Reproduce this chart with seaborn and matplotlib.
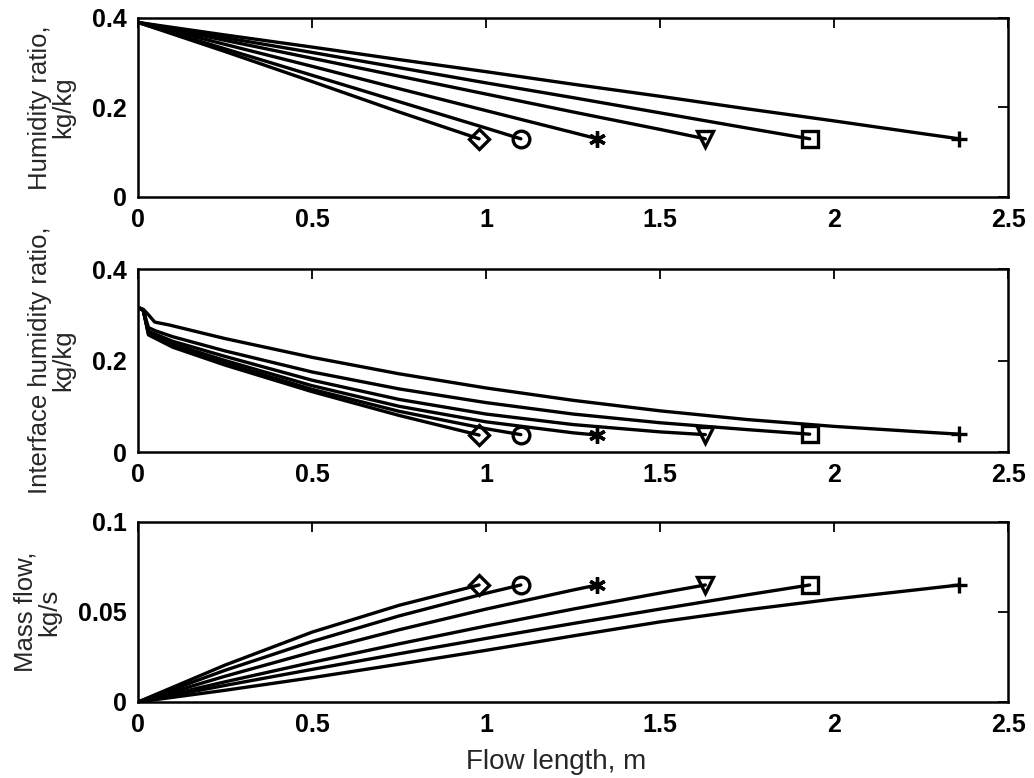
import numpy as np
import pandas as pd
import matplotlib
matplotlib.use("Agg")
import matplotlib.pyplot as plt
import seaborn as sns

sns.set_theme(style="white")
plt.rcParams["font.family"] = ["Liberation Sans", "DejaVu Sans"]

# Flow length of each channel (m) and the end marker used for it
lengths = [0.98, 1.10, 1.32, 1.63, 1.93, 2.36]
markers = ["D", "o", (6, 2, 0), "v", "s", "+"]

# Humidity ratio of the air, kg/kg
hum_x = [
    [0, 0.25, 0.5, 0.75, 0.98],
    [0, 0.25, 0.5, 0.75, 1.0, 1.10],
    [0, 0.25, 0.5, 0.75, 1.0, 1.25, 1.32],
    [0, 0.25, 0.5, 0.75, 1.0, 1.25, 1.5, 1.63],
    [0, 0.25, 0.5, 0.75, 1.0, 1.25, 1.5, 1.75, 1.93],
    [0, 0.25, 0.5, 0.75, 1.0, 1.25, 1.5, 1.75, 2.0, 2.25, 2.36],
]
hum_y = [
    [0.39, 0.325, 0.258, 0.190, 0.13],
    [0.39, 0.331, 0.272, 0.213, 0.154, 0.13],
    [0.39, 0.341, 0.292, 0.242, 0.193, 0.144, 0.13],
    [0.39, 0.350, 0.310, 0.270, 0.230, 0.190, 0.151, 0.13],
    [0.39, 0.356, 0.323, 0.289, 0.255, 0.222, 0.188, 0.154, 0.13],
    [0.39, 0.362, 0.335, 0.307, 0.280, 0.252, 0.225, 0.197, 0.170, 0.142, 0.13],
]

# Humidity ratio at the interface, kg/kg
int_x = [
    [0, 0.015, 0.03, 0.1, 0.25, 0.5, 0.75, 0.98],
    [0, 0.015, 0.03, 0.1, 0.25, 0.5, 0.75, 1.0, 1.10],
    [0, 0.015, 0.03, 0.1, 0.25, 0.5, 0.75, 1.0, 1.25, 1.32],
    [0, 0.015, 0.03, 0.1, 0.25, 0.5, 0.75, 1.0, 1.25, 1.5, 1.63],
    [0, 0.015, 0.03, 0.05, 0.1, 0.25, 0.5, 0.75, 1.0, 1.25, 1.5, 1.75, 1.93],
    [0, 0.015, 0.03, 0.048, 0.088, 0.25, 0.5, 0.75, 1.0, 1.25, 1.5, 1.75, 2.0, 2.25, 2.36],
]
int_y = [
    [0.316, 0.31, 0.256, 0.229, 0.190, 0.132, 0.080, 0.037],
    [0.316, 0.31, 0.258, 0.232, 0.194, 0.137, 0.089, 0.051, 0.038],
    [0.316, 0.31, 0.261, 0.236, 0.200, 0.145, 0.100, 0.066, 0.042, 0.037],
    [0.316, 0.31, 0.264, 0.242, 0.209, 0.157, 0.115, 0.083, 0.060, 0.044, 0.038],
    [0.316, 0.31, 0.272, 0.265, 0.252, 0.221, 0.175, 0.138, 0.108, 0.083, 0.064, 0.049, 0.039],
    [0.316, 0.312, 0.300, 0.284, 0.278, 0.248, 0.207, 0.171, 0.140, 0.113, 0.090, 0.071, 0.056, 0.044, 0.039],
]

# Mass flow, kg/s
mass_x = [
    [0, 0.25, 0.5, 0.75, 0.98],
    [0, 0.25, 0.5, 0.75, 1.0, 1.10],
    [0, 0.25, 0.5, 0.75, 1.0, 1.25, 1.32],
    [0, 0.25, 0.5, 0.75, 1.0, 1.25, 1.5, 1.63],
    [0, 0.25, 0.5, 0.75, 1.0, 1.25, 1.5, 1.75, 1.93],
    [0, 0.25, 0.5, 0.75, 1.0, 1.25, 1.5, 1.75, 2.0, 2.25, 2.36],
]
mass_y = [
    [0, 0.0205, 0.0388, 0.0537, 0.065],
    [0, 0.0176, 0.0336, 0.0478, 0.0604, 0.065],
    [0, 0.0143, 0.0277, 0.0401, 0.0516, 0.0622, 0.065],
    [0, 0.0112, 0.0220, 0.0323, 0.0422, 0.0516, 0.0605, 0.065],
    [0, 0.0092, 0.0181, 0.0268, 0.0353, 0.0436, 0.0516, 0.0595, 0.065],
    [0, 0.0065, 0.0135, 0.0210, 0.0287, 0.0367, 0.0445, 0.0512, 0.0572, 0.0626, 0.065],
]

panels = [
    (hum_x, hum_y, "Humidity ratio,\nkg/kg", [0, 0.4], [0, 0.2, 0.4], ["0", "0.2", "0.4"]),
    (int_x, int_y, "Interface humidity ratio,\nkg/kg", [0, 0.4], [0, 0.2, 0.4], ["0", "0.2", "0.4"]),
    (mass_x, mass_y, "Mass flow,\nkg/s", [0, 0.1], [0, 0.05, 0.1], ["0", "0.05", "0.1"]),
]
x_ticks = [0, 0.5, 1, 1.5, 2, 2.5]
x_ticklabels = ["0", "0.5", "1", "1.5", "2", "2.5"]

fig = plt.figure(figsize=(10.34, 7.78), dpi=100)
boxes = [
    [0.1335, 0.7468, 0.8414, 0.2301],
    [0.1335, 0.4190, 0.8414, 0.2352],
    [0.1335, 0.0977, 0.8414, 0.2314],
]

for box, (xs, ys, ylabel, ylim, yticks, yticklabels) in zip(boxes, panels):
    ax = fig.add_axes(box)
    for cx, cy, mk in zip(xs, ys, markers):
        df = pd.DataFrame({"x": cx, "y": cy})
        sns.lineplot(data=df, x="x", y="y", ax=ax, color="black", lw=2.4,
                     sort=False, estimator=None)
        star = mk == (6, 2, 0)
        ax.plot(cx[-1], cy[-1], marker=mk,
                ms=10 if mk == "D" else 12,
                mfc="black" if star else "none",
                mec="black", mew=2.4, ls="none")
    ax.set_xlim(0, 2.5)
    ax.set_ylim(*ylim)
    ax.set_xticks(x_ticks)
    ax.set_xticklabels(x_ticklabels)
    ax.set_yticks(yticks)
    ax.set_yticklabels(yticklabels)
    ax.set_xlabel("")
    ax.set_ylabel(ylabel, fontsize=18.5, linespacing=1.0, labelpad=12)
    ax.tick_params(direction="in", length=7, width=1.3, top=True, right=True,
                   labelsize=18, pad=8, colors="black")
    for lab in ax.get_xticklabels() + ax.get_yticklabels():
        lab.set_fontweight("bold")
    for sp in ax.spines.values():
        sp.set_linewidth(1.8)
        sp.set_color("black")
    ax.set_facecolor("white")
    last_ax = ax

last_ax.set_xlabel("Flow length, m", fontsize=20)
last_ax.xaxis.set_label_coords(0.48, -0.26)

fig.savefig("out.png", dpi=100, facecolor="white")
